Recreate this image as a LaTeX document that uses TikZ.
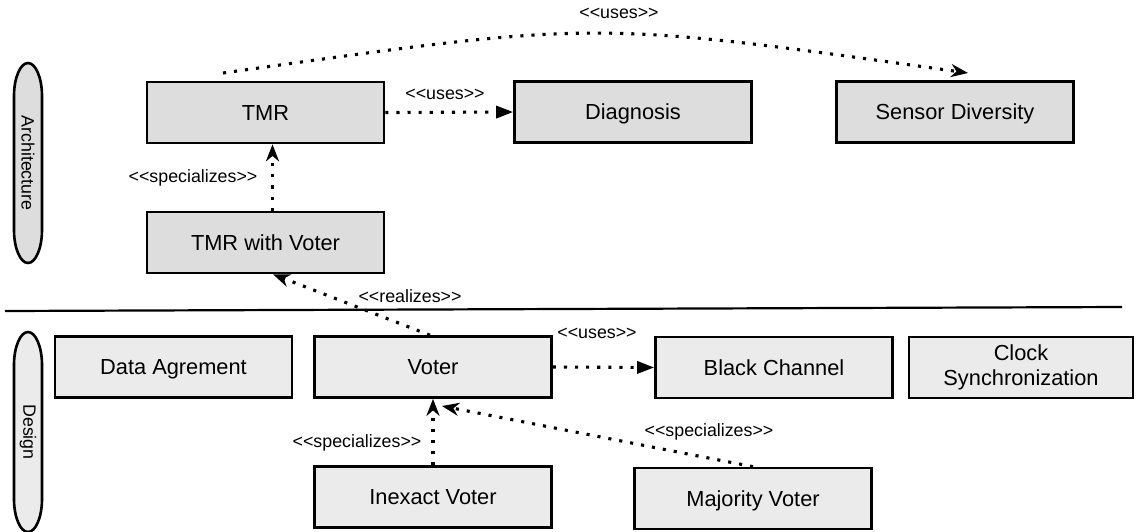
\documentclass[tikz,border=0pt]{standalone}
\usepackage{fontspec}
\setmainfont{Liberation Sans}[Ligatures=TeXOff]
\usetikzlibrary{arrows.meta,calc}
\definecolor{archfill}{HTML}{DCDDDC}
\definecolor{desfill}{HTML}{EBEBEB}
\begin{document}
\begin{tikzpicture}[x=0.5pt,y=-0.5pt,
  box/.style={draw=black, line width=1.3pt, minimum width=118.5pt, minimum height=30.5pt,
    inner sep=0pt, font=\fontsize{10.9}{12.5}\selectfont, text height=7.7pt, text depth=0pt},
  archbox/.style={box, fill=archfill},
  desbox/.style={box, fill=desfill},
  lab/.style={inner sep=0pt, font=\fontsize{8.9}{10.5}\selectfont},
  dotline/.style={line width=1.55pt, dash pattern=on 1.55pt off 4pt},
  usesarrow/.style={dotline, -{Triangle[length=8.5pt,width=6pt]}},
  specarrow/.style={dotline, -{Stealth[length=8.5pt,width=6.5pt,inset=2.7pt]}},
  lane/.style={draw=black, line width=1.3pt}
]
\clip (0,0) rectangle (1136,531);
\fill[white] (0,0) rectangle (1136,531);

% swimlane ovals
\path[lane, fill=archfill] (14,96) .. controls (14,77.8) and (20.3,63) .. (28,63)
  .. controls (35.7,63) and (42,77.8) .. (42,96) -- (42,230)
  .. controls (42,248.2) and (35.7,263) .. (28,263)
  .. controls (20.3,263) and (14,248.2) .. (14,230) -- cycle;
\node[lab, rotate=-90] (archlab) at (28,163) {Architecture};
\path[lane, fill=desfill] (14,365) .. controls (14,346.8) and (20.3,332) .. (28,332)
  .. controls (35.7,332) and (42,346.8) .. (42,365) -- (42,499)
  .. controls (42,517.2) and (35.7,532) .. (28,532)
  .. controls (20.3,532) and (14,517.2) .. (14,499) -- cycle;
\node[lab, rotate=-90] (deslab) at (28,432) {Design};

% separator
\coordinate (sepl) at (5,311);
\coordinate (sepr) at (1122,307);
\draw[line width=1.1pt] (sepl) -- (sepr);

% boxes
\node[archbox] (tmr) at (265.5,112.5) {TMR};
\node[archbox] (diag) at (633,112) {Diagnosis};
\node[archbox] (sensor) at (955,112) {Sensor Diversity};
\node[archbox] (tmrv) at (265.5,242.5) {TMR with Voter};
\node[desbox] (data) at (173.5,367) {Data Agrement};
\node[desbox] (voter) at (433,367) {Voter};
\node[desbox] (black) at (774,367.5) {Black Channel};
\node[desbox, minimum width=112pt, align=center, text height=, text depth=] (clock) at (1021,367.5) {Clock\\Synchronization};
\node[desbox] (inexact) at (433,497) {Inexact Voter};
\node[desbox] (major) at (753,498.5) {Majority Voter};

% connectors
\draw[usesarrow] (tmr.east) -- (diag.west);
\node[lab] (l1) at (445,94) {<<uses>>};

\draw[specarrow] ($(tmrv.north)+(7,0)$) -- ($(tmr.south)+(7,0)$);
\node[lab] (l2) at (193,178) {<<specializes>>};

\coordinate (cs) at (223,73);
\coordinate (ce) at (968,73);
\draw[specarrow] (cs) .. controls (600,20) and (590,20) .. (ce);
\node[lab] (l3) at (619,13) {<<uses>>};

\draw[specarrow] ($(voter.north)+(-3,0)$) -- ($(tmrv.south)+(7.5,0)$);
\node[lab] (l4) at (410,296) {<<realizes>>};

\draw[usesarrow] (voter.east) -- (black.west);
\node[lab] (l5) at (597,333) {<<uses>>};

\draw[specarrow] (inexact.north) -- (voter.south);
\node[lab] (l6) at (357,443) {<<specializes>>};

\coordinate (mvend) at (442,406);
\draw[specarrow] (major.north) -- (mvend);
\node[lab] (l7) at (709,432) {<<specializes>>};
\end{tikzpicture}
\end{document}
